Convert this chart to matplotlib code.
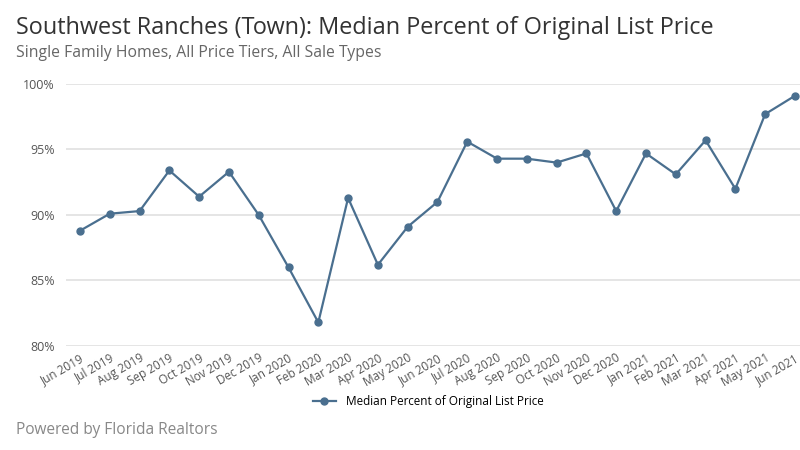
import matplotlib
matplotlib.use("Agg")
import matplotlib.pyplot as plt
from matplotlib.ticker import FuncFormatter

months = ["Jun 2019","Jul 2019","Aug 2019","Sep 2019","Oct 2019","Nov 2019","Dec 2019",
          "Jan 2020","Feb 2020","Mar 2020","Apr 2020","May 2020","Jun 2020","Jul 2020",
          "Aug 2020","Sep 2020","Oct 2020","Nov 2020","Dec 2020","Jan 2021","Feb 2021",
          "Mar 2021","Apr 2021","May 2021","Jun 2021"]
values = [88.8, 90.1, 90.3, 93.4, 91.4, 93.3, 90.0, 86.0, 81.8, 91.3, 86.2, 89.1, 91.0,
          95.6, 94.3, 94.3, 94.0, 94.7, 90.3, 94.7, 93.1, 95.7, 92.0, 97.7, 99.1]
yticks = [80, 85, 90, 95, 100]

plt.rcParams["font.family"] = "Open Sans"
fig = plt.figure(figsize=(8, 4.5), dpi=100)
ax = fig.add_axes([66/800, 1-346/450, 734/800, 262/450])
color = "#4a6f8f"
x = list(range(len(months)))
ax.plot(x, values, color=color, lw=1.6, marker="o", ms=5, label="Median Percent of Original List Price")
ax.set_ylim(80, 100)
ax.set_xlim(-0.47, 24.17)
ax.set_yticks(yticks)
ax.yaxis.set_major_formatter(FuncFormatter(lambda v, p: f"{v:.0f}%"))
ax.set_xticks(x)
ax.set_xticklabels(months, rotation=30, ha="right", rotation_mode="anchor", fontsize=8.5, color="#555555")
ax.tick_params(axis="y", labelsize=9, colors="#555555", length=0, pad=8)
ax.tick_params(axis="x", length=0, pad=4)
ax.grid(axis="y", color="#e0e0e0", lw=1.2)
for s in ax.spines.values():
    s.set_visible(False)
ax.set_axisbelow(True)
fig.text(0.02, 0.965, "Southwest Ranches (Town): Median Percent of Original List Price",
         fontsize=16.8, color="#333333", va="top")
fig.text(0.02, 0.9, "Single Family Homes, All Price Tiers, All Sale Types",
         fontsize=11.3, color="#666666", va="top")
fig.text(0.02, 0.035, "Powered by Florida Realtors", fontsize=11.2, color="#888888")
fig.legend(loc="center", bbox_to_anchor=(0.535, 1-402/450), frameon=False, fontsize=8.5)
fig.savefig("out.png")
